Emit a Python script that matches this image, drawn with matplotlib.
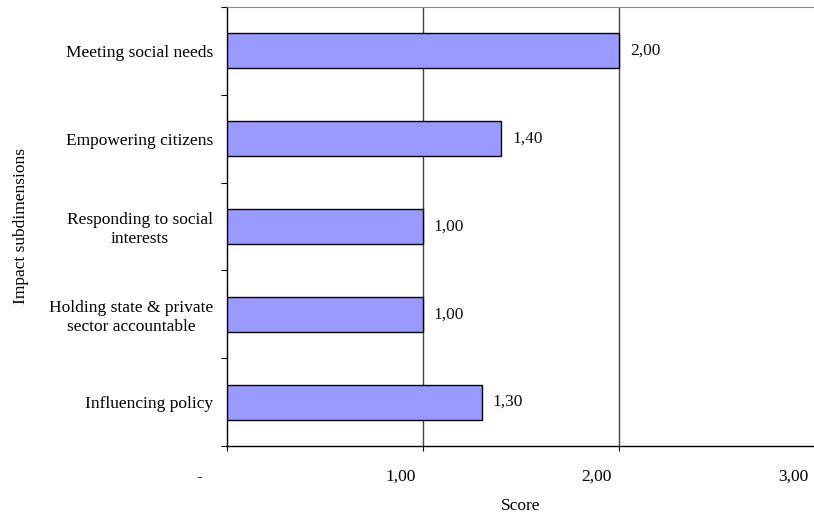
import matplotlib
matplotlib.use("Agg")
import matplotlib.pyplot as plt
import matplotlib.transforms as mtransforms

categories = ["Meeting social needs", "Empowering citizens",
              "Responding to social\ninterests",
              "Holding state & private\nsector accountable",
              "Influencing policy"]
scores = [2.00, 1.40, 1.00, 1.00, 1.30]
x_ticks = [0, 1, 2, 3]
x_tick_labels = ["-    ", "1,00", "2,00", "3,00"]

plt.rcParams['font.family'] = ['Liberation Serif', 'DejaVu Serif']
plt.rcParams['font.size'] = 12.5

fig = plt.figure(figsize=(8.14, 5.17), dpi=100)
ax = fig.add_axes([227/814, 1 - 446/517, 588/814, 439/517])

pos = list(range(len(categories)))
ax.barh(pos, scores, height=0.4, color="#9999FF", edgecolor="black",
        linewidth=1, zorder=3)
for p, s in zip(pos, scores):
    ax.text(s + 0.055, p, f"{s:.2f}".replace(".", ","), va="center", ha="left",
            color="#111111", zorder=4)

ax.set_xlim(0, 3)
ax.set_ylim(len(categories) - 0.5, -0.5)

for xv in [1, 2]:
    ax.axvline(xv, color="#444444", linewidth=1, zorder=1)

ax.set_xticks(x_ticks)
ax.set_xticklabels(x_tick_labels, ha="right")
ax.tick_params(axis="x", direction="out", length=3.6, pad=13, color="black")
shift = mtransforms.ScaledTranslation(-5 / 72, 0, fig.dpi_scale_trans)
for lbl in ax.get_xticklabels():
    lbl.set_transform(lbl.get_transform() + shift)

ax.set_yticks([p - 0.5 for p in pos] + [len(categories) - 0.5])
ax.set_yticklabels([])
ax.tick_params(axis="y", direction="out", length=4.5, color="black")
ax.set_yticks(pos, minor=True)
ax.set_yticklabels(categories, minor=True, multialignment="center")
ax.tick_params(axis="y", which="minor", length=0, pad=10)

ax.spines["right"].set_visible(False)
ax.spines["top"].set_color("#888888")
ax.spines["left"].set_linewidth(1)
ax.spines["bottom"].set_linewidth(1)

ax.set_xlabel("Score", labelpad=9)
ax.set_ylabel("Impact subdimensions", labelpad=14)

fig.savefig("out.png", dpi=100)
